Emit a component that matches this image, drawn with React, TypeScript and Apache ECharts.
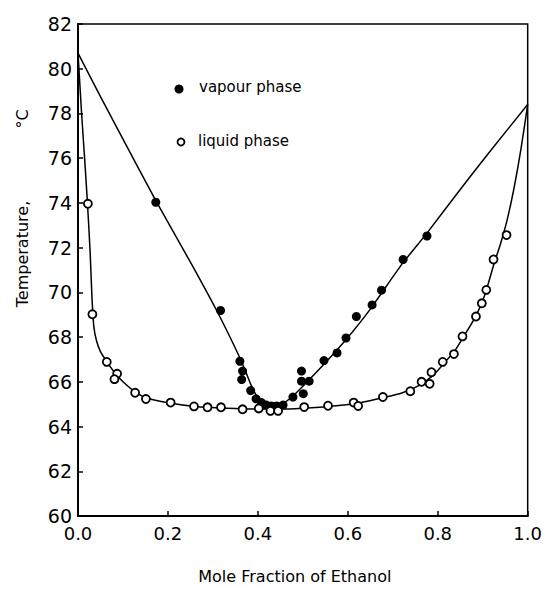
import React, { useEffect, useRef } from "react";
import * as echarts from "echarts";

// Tick values
const xTickValues = [0, 0.2, 0.4, 0.6, 0.8, 1.0];
const yTickValues = [60, 62, 64, 66, 68, 70, 72, 74, 76, 78, 80, 82];

// Measured points: [mole fraction of ethanol, temperature °C]
const vapourPoints: number[][] = [
  [0.173, 74.03], [0.317, 69.19], [0.36, 66.92], [0.366, 66.48], [0.364, 66.1],
  [0.384, 65.61], [0.396, 65.24], [0.408, 65.07], [0.419, 64.96], [0.43, 64.92],
  [0.442, 64.92], [0.456, 64.96], [0.478, 65.32], [0.501, 65.47], [0.497, 66.03],
  [0.514, 66.03], [0.497, 66.48], [0.547, 66.95], [0.576, 67.29], [0.596, 67.96],
  [0.619, 68.92], [0.654, 69.44], [0.675, 70.1], [0.723, 71.47], [0.776, 72.52],
];

const liquidPoints: number[][] = [
  [0.022, 73.96], [0.032, 69.02], [0.064, 66.89], [0.087, 66.36], [0.081, 66.12],
  [0.127, 65.51], [0.151, 65.23], [0.206, 65.07], [0.258, 64.9], [0.288, 64.86],
  [0.318, 64.86], [0.366, 64.77], [0.402, 64.81], [0.428, 64.7], [0.445, 64.7],
  [0.503, 64.87], [0.556, 64.93], [0.613, 65.07], [0.623, 64.92], [0.678, 65.32],
  [0.739, 65.58], [0.764, 66.0], [0.782, 65.91], [0.786, 66.43], [0.811, 66.89],
  [0.836, 67.24], [0.855, 68.03], [0.885, 68.92], [0.898, 69.51], [0.908, 70.11],
  [0.924, 71.47], [0.953, 72.56],
];

// Fitted curves as drawn in the figure
const vapourCurve: number[][] = [
  [0, 80.7], [0.05, 78.75], [0.1, 76.85], [0.173, 74.1], [0.25, 71.35], [0.308, 69.2],
  [0.35, 67.5], [0.37, 66.6], [0.385, 65.85], [0.4, 65.28], [0.415, 65.0], [0.43, 64.88],
  [0.445, 64.92], [0.46, 65.08], [0.48, 65.4], [0.5, 65.8], [0.55, 66.85], [0.6, 67.98],
  [0.65, 69.25], [0.72, 71.25], [0.776, 72.65], [0.85, 74.6], [0.92, 76.4], [1.0, 78.4],
];

const liquidCurve: number[][] = [
  [0, 80.7], [0.008, 78.0], [0.015, 75.9], [0.021, 74.0], [0.027, 71.8], [0.031, 69.8],
  [0.035, 68.5], [0.041, 67.85], [0.05, 67.35], [0.064, 66.9], [0.08, 66.45], [0.1, 66.0],
  [0.127, 65.55], [0.15, 65.3], [0.2, 65.06], [0.26, 64.9], [0.33, 64.82], [0.4, 64.78],
  [0.46, 64.78], [0.52, 64.84], [0.58, 64.94], [0.63, 65.08], [0.68, 65.3], [0.72, 65.5],
  [0.76, 65.85], [0.79, 66.3], [0.815, 66.85], [0.84, 67.45], [0.86, 68.1], [0.885, 68.95],
  [0.905, 69.9], [0.924, 71.2], [0.94, 72.2], [0.955, 73.3], [0.97, 74.7], [0.985, 76.4],
  [1.0, 78.4],
];

const FONT = '"DejaVu Sans", "Liberation Sans", sans-serif';

export default function App() {
  const ref = useRef<HTMLDivElement>(null);

  useEffect(() => {
    const chart = echarts.init(ref.current!, null, { renderer: "svg" });
    chart.setOption({
      animation: false,
      backgroundColor: "#fff",
      grid: {
        left: 78,
        right: 17,
        top: 24,
        bottom: 70,
        show: true,
        borderColor: "#000",
        borderWidth: 1.5,
        backgroundColor: "transparent",
      },
      xAxis: {
        type: "value",
        min: xTickValues[0],
        max: xTickValues[xTickValues.length - 1],
        interval: 0.2,
        name: "Mole Fraction of Ethanol",
        nameLocation: "middle",
        nameGap: 52,
        nameTextStyle: { fontSize: 16, fontFamily: FONT, color: "#000", padding: [0, 16, 0, 0] },
        axisLine: { show: true, lineStyle: { color: "#000", width: 2 } },
        axisTick: { show: true, inside: true, length: 5, lineStyle: { color: "#000", width: 1.5 } },
        axisLabel: {
          color: "#000",
          fontSize: 18,
          fontFamily: FONT,
          margin: 8,
          formatter: (v: number) => v.toFixed(1),
        },
        splitLine: { show: false },
      },
      yAxis: {
        type: "value",
        min: yTickValues[0],
        max: yTickValues[yTickValues.length - 1],
        interval: 2,
        axisLine: { show: true, lineStyle: { color: "#000", width: 2 } },
        axisTick: { show: true, inside: true, length: 5, lineStyle: { color: "#000", width: 1.5 } },
        axisLabel: { color: "#000", fontSize: 19, fontFamily: FONT, margin: 6 },
        splitLine: { show: false },
      },
      graphic: [
        {
          type: "text",
          x: 22,
          y: 254,
          rotation: Math.PI / 2,
          style: { text: "Temperature,", fontSize: 16, fontFamily: FONT, fill: "#000", align: "center", verticalAlign: "middle" },
        },
        {
          type: "text",
          x: 22,
          y: 119,
          rotation: Math.PI / 2,
          style: { text: "°C", fontSize: 16, fontFamily: FONT, fill: "#000", align: "center", verticalAlign: "middle" },
        },
        { type: "circle", shape: { cx: 179, cy: 89, r: 4.5 }, style: { fill: "#000" } },
        {
          type: "text",
          x: 199,
          y: 87,
          style: { text: "vapour phase", fontSize: 15, fontFamily: FONT, fill: "#000", align: "left", verticalAlign: "middle" },
        },
        { type: "circle", shape: { cx: 181, cy: 142, r: 3.5 }, style: { fill: "#fff", stroke: "#000", lineWidth: 1.8 } },
        {
          type: "text",
          x: 198,
          y: 141,
          style: { text: "liquid phase", fontSize: 15, fontFamily: FONT, fill: "#000", align: "left", verticalAlign: "middle" },
        },
      ],
      series: [
        {
          name: "vapour curve",
          type: "line",
          data: vapourCurve,
          smooth: 0.2,
          showSymbol: false,
          symbol: "none",
          lineStyle: { color: "#000", width: 1.5 },
          z: 2,
        },
        {
          name: "liquid curve",
          type: "line",
          data: liquidCurve,
          smooth: 0.2,
          showSymbol: false,
          symbol: "none",
          lineStyle: { color: "#000", width: 1.5 },
          z: 2,
        },
        {
          name: "vapour phase",
          type: "scatter",
          data: vapourPoints,
          symbol: "circle",
          symbolSize: 9,
          itemStyle: { color: "#000", opacity: 1 },
          z: 3,
        },
        {
          name: "liquid phase",
          type: "scatter",
          data: liquidPoints,
          symbol: "circle",
          symbolSize: 8,
          itemStyle: { color: "#fff", borderColor: "#000", borderWidth: 1.8, opacity: 1 },
          z: 4,
        },
      ],
    });
    return () => chart.dispose();
  }, []);

  return (
    <div
      ref={ref}
      style={{ position: "absolute", left: 0, top: 0, width: 545, height: 589, background: "#fff" }}
    />
  );
}
